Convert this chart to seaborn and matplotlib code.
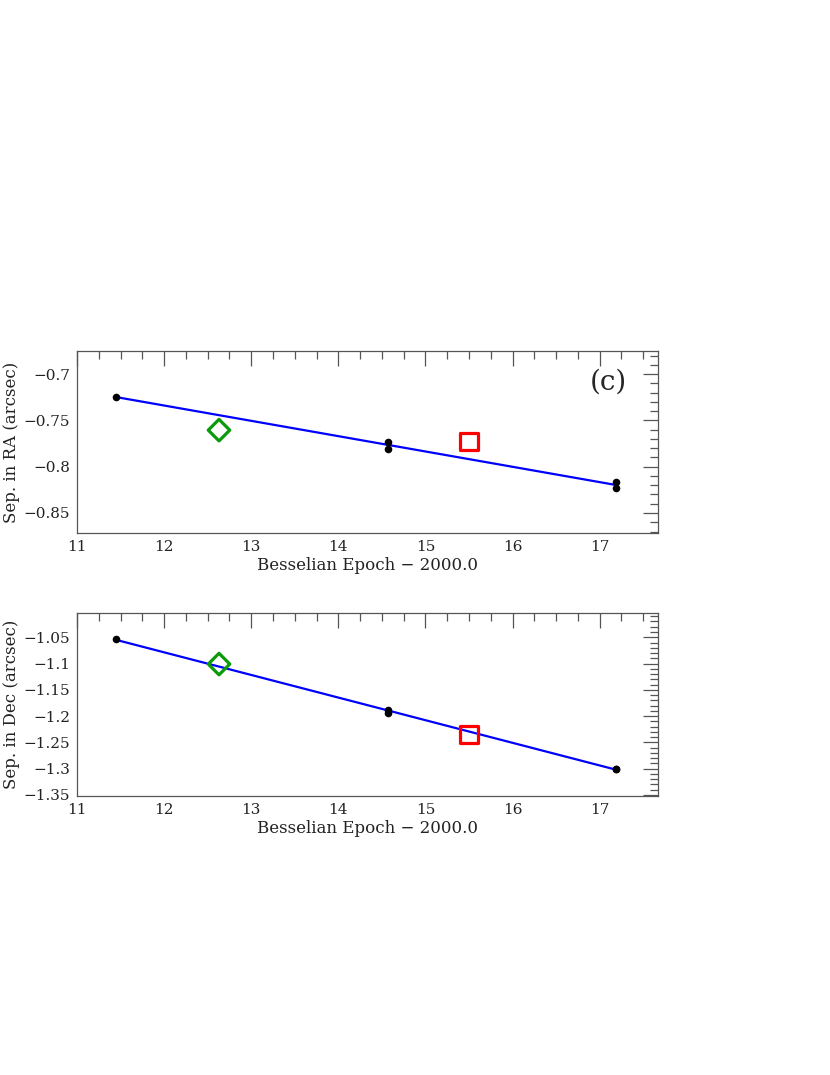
import numpy as np
import pandas as pd
import seaborn as sns
import matplotlib
matplotlib.use('Agg')
import matplotlib.pyplot as plt
from matplotlib.ticker import MultipleLocator

# data
epoch_obs = [11.45, 14.57, 14.57, 17.19, 17.19]
ra_obs = [-0.7248, -0.7734, -0.7810, -0.8166, -0.8230]
dec_obs = [-1.054, -1.188, -1.195, -1.301, -1.301]

epoch_fit = [11.45, 17.19]
ra_fit = [-0.7248, -0.8198]
dec_fit = [-1.055, -1.302]

epoch_diamond = [12.63]
ra_diamond = [-0.7605]
dec_diamond = [-1.101]

epoch_square = [15.50]
ra_square = [-0.7724]
dec_square = [-1.2344]

xticks = [11, 12, 13, 14, 15, 16, 17]
ra_ticks = [-0.7, -0.75, -0.8, -0.85]
ra_ticklabels = ['\u22120.7', '\u22120.75', '\u22120.8', '\u22120.85']
dec_ticks = [-1.05, -1.1, -1.15, -1.2, -1.25, -1.3, -1.35]
dec_ticklabels = ['\u22121.05', '\u22121.1', '\u22121.15', '\u22121.2', '\u22121.25', '\u22121.3', '\u22121.35']

sns.set_theme(style='white')
plt.rcParams['font.family'] = ['DejaVu Serif']
plt.rcParams['font.size'] = 10.5

fig = plt.figure(figsize=(8.3, 10.75), dpi=100)
ax1 = fig.add_axes([0.0928, 0.5042, 0.700, 0.1693])
ax2 = fig.add_axes([0.0928, 0.2595, 0.700, 0.1702])

df_obs = pd.DataFrame({'epoch': epoch_obs, 'ra': ra_obs, 'dec': dec_obs})
df_fit = pd.DataFrame({'epoch': epoch_fit, 'ra': ra_fit, 'dec': dec_fit})


def panel(ax, col, dia, sq, ticks, ticklabels, ylim, ylabel):
    sns.lineplot(data=df_fit, x='epoch', y=col, color='#0000ff', lw=1.6, ax=ax)
    sns.scatterplot(data=df_obs, x='epoch', y=col, color='black', s=30,
                    edgecolor='black', linewidth=0, ax=ax, zorder=3)
    sns.scatterplot(x=epoch_diamond, y=dia, marker='D', s=120, facecolor='none',
                    edgecolor='#0a9a0a', linewidth=2.3, ax=ax, zorder=4)
    sns.scatterplot(x=epoch_square, y=sq, marker='s', s=150, facecolor='none',
                    edgecolor='#ff0000', linewidth=2.3, ax=ax, zorder=4)
    ax.set_xlim(11, 17.67)
    ax.set_ylim(*ylim)
    ax.set_xticks(xticks)
    ax.set_xticklabels([str(t) for t in xticks])
    ax.set_yticks(ticks)
    ax.set_yticklabels(ticklabels)
    ax.xaxis.set_minor_locator(MultipleLocator(0.25))
    ax.yaxis.set_minor_locator(MultipleLocator(0.01))
    ax.tick_params(which='both', direction='in', top=True, right=True,
                   color='#555555', width=0.9, labelcolor='#222222')
    ax.tick_params(which='major', length=11, pad=5)
    ax.tick_params(which='minor', length=5.5)
    for s in ax.spines.values():
        s.set_color('#555555')
        s.set_linewidth(0.9)
    ax.set_xlabel('Besselian Epoch \u2212 2000.0', labelpad=2, color='#222222')
    ax.set_ylabel(ylabel, color='#222222')
    ax.yaxis.set_label_coords(-0.098, 0.5)


panel(ax1, 'ra', ra_diamond, ra_square, ra_ticks, ra_ticklabels,
      (-0.8716, -0.675), 'Sep. in RA (arcsec)')
panel(ax2, 'dec', dec_diamond, dec_square, dec_ticks, dec_ticklabels,
      (-1.352, -1.004), 'Sep. in Dec (arcsec)')

ax1.text(0.915, 0.83, '(c)', transform=ax1.transAxes, fontsize=20,
         ha='center', va='center')

fig.savefig('out.png', dpi=100)
